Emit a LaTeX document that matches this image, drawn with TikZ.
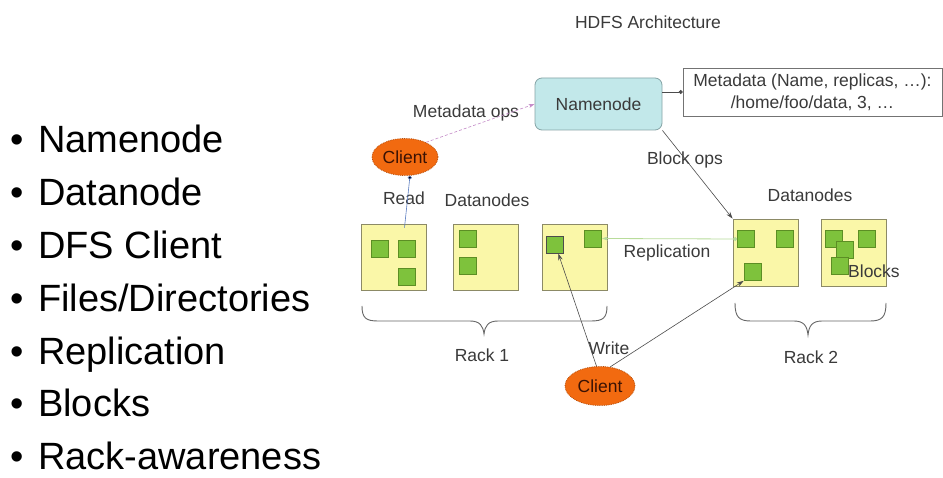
\documentclass[tikz,border=0pt]{standalone}
\usepackage{fontspec}
\setmainfont{Liberation Sans}
\usetikzlibrary{shapes.geometric,arrows.meta,calc}

\definecolor{nnfill}{HTML}{C2E8EA}
\definecolor{nndraw}{HTML}{86A4A6}
\definecolor{dnfill}{HTML}{FAF7A8}
\definecolor{dndraw}{HTML}{8C8A66}
\definecolor{blkfill}{HTML}{7EC23C}
\definecolor{blkdraw}{HTML}{5C8E24}
\definecolor{clfill}{HTML}{F26A10}
\definecolor{cldraw}{HTML}{B84E0A}
\definecolor{cltext}{HTML}{3A1204}
\definecolor{labeltext}{HTML}{3A3A3A}
\definecolor{metaops}{HTML}{C48AC8}
\definecolor{readcol}{HTML}{5A7CC0}
\definecolor{repcol}{HTML}{B8DC9A}

\begin{document}
\begin{tikzpicture}[x=1pt,y=-1pt,
  lbl/.style={font=\fontsize{17.5}{22}\selectfont, text=labeltext, inner sep=0pt},
  namebox/.style={draw=nndraw, fill=nnfill, rounded corners=7pt, minimum width=127pt,
    minimum height=52pt, line width=0.8pt, font=\fontsize{17.5}{22}\selectfont, text=labeltext},
  metabox/.style={draw=black!55, fill=white, minimum width=259pt, minimum height=48pt,
    line width=0.7pt, align=center, inner sep=0pt, font=\fontsize{17.5}{22}\selectfont, text=labeltext},
  datanode/.style={draw=dndraw, fill=dnfill, minimum width=65pt, minimum height=66pt, line width=0.8pt},
  blk/.style={draw=blkdraw, fill=blkfill, minimum size=17pt, inner sep=0pt, line width=0.6pt},
  client/.style={ellipse, draw=cldraw, densely dotted, line width=0.8pt, fill=clfill, minimum width=66pt,
    minimum height=37pt, inner sep=0pt, font=\fontsize{17.5}{22}\selectfont, text=cltext},
  listitem/.style={anchor=base west, font=\fontsize{38}{46}\selectfont, inner sep=0pt},
  conn/.style={line width=0.6pt, draw=black!70},
  tip/.style={-{Stealth[length=7pt,width=4.5pt]}},
  braceline/.style={line width=0.9pt, draw=black!60}
]
\useasboundingbox (0,0) rectangle (943,478);
\fill[white] (0,0) rectangle (943,478);

% bullet list
\foreach \txt [count=\i from 0] in {Namenode,Datanode,DFS Client,Files/Directories,Replication,Blocks,Rack-awareness}
  \node[listitem] (item\i) at (10,153+52.8*\i) {\makebox[28pt][l]{•}\txt};

% title
\node[lbl] (title) at (648,22) {HDFS Architecture};

% namenode and its metadata
\node[namebox] (nn) at (598.5,104) {Namenode};
\node[metabox] (meta) at (812.5,92) {Metadata (Name, replicas, …):\\/home/foo/data, 3, …};

% clients
\node[client] (c1) at (405,157) {Client};
\node[client, minimum width=70pt, minimum height=39pt] (c2) at (600,386) {Client};

% rack 1 datanodes
\node[datanode] (d11) at (393.5,257) {};
\node[datanode] (d12) at (486,257) {};
\node[datanode] (d13) at (574.5,257) {};
% rack 2 datanodes
\node[datanode, minimum height=67pt] (d21) at (765.5,252.5) {};
\node[datanode, minimum height=67pt] (d22) at (853.5,252.5) {};

% blocks
\node[blk] (b11a) at (380,249) {};
\node[blk] (b11b) at (407,249) {};
\node[blk] (b11c) at (407,277) {};
\node[blk] (b12a) at (467.5,238.5) {};
\node[blk] (b12b) at (467.5,265.5) {};
\node[blk, draw=black!70, line width=0.8pt] (b13a) at (555,244.5) {};
\node[blk] (b13b) at (593,238.5) {};
\node[blk] (b21a) at (746,239) {};
\node[blk] (b21b) at (785,239) {};
\node[blk] (b21c) at (752.5,272) {};
\node[blk] (b22a) at (834,239) {};
\node[blk] (b22b) at (867,239) {};
\node[blk] (b22c) at (845,250) {};
\node[blk] (b22d) at (840,266) {};

% labels
\node[lbl] (lmeta) at (466,113) {Metadata ops};
\node[lbl] (lread) at (404,198) {Read};
\node[lbl] (ldn1) at (487,200) {Datanodes};
\node[lbl] (lblk) at (685,160) {Block ops};
\node[lbl] (ldn2) at (810,195) {Datanodes};
\node[lbl] (lrep) at (667,253) {Replication};
\node[lbl, anchor=west] (lblocks) at (848,271) {Blocks};
\node[lbl] (lwrite) at (609,348) {Write};
\node[lbl] (lrack1) at (482,355) {Rack 1};
\node[lbl] (lrack2) at (811,357) {Rack 2};

% connectors
\draw[conn, -{Circle[length=4pt]}] (nn.east |- meta.west) -- (meta.west);
\draw[densely dashed, line width=0.6pt, draw=metaops, -{Stealth[length=6pt,width=4pt]}, color=metaops]
  (c1.35) -- (nn.west);
\draw[line width=0.6pt, draw=readcol, -{Circle[length=4pt,fill=black]}]
  ($(d11.north)+(11,4)$) -- (c1.285);
\draw[conn, tip] (nn.south east) -- (d21.north west);
\draw[line width=0.8pt, draw=repcol, {Stealth[length=6pt,width=4pt]}-{Circle[length=4pt]}]
  (b13b.east) -- (b21a.west);
\draw[conn, tip] (c2.100) -- (b13a.290);
\draw[conn, tip] (c2.62) -- (b21c.south west);

% rack braces
\coordinate (r1l) at (362,306);
\coordinate (r1r) at (607,306);
\coordinate (r1t) at (484,334);
\draw[braceline] (r1l) .. controls (362,318) and (366,321) .. (378,321) -- (470,321)
  .. controls (480,321) and (483,326) .. (r1t)
  .. controls (485,326) and (488,321) .. (498,321) -- (591,321)
  .. controls (603,321) and (607,318) .. (r1r);
\coordinate (r2l) at (735,303);
\coordinate (r2r) at (886,303);
\coordinate (r2t) at (808,335);
\draw[braceline] (r2l) .. controls (735,317) and (739,321) .. (751,321) -- (794,321)
  .. controls (804,321) and (807,326) .. (r2t)
  .. controls (809,326) and (812,321) .. (822,321) -- (870,321)
  .. controls (882,321) and (886,317) .. (r2r);
\end{tikzpicture}
\end{document}
